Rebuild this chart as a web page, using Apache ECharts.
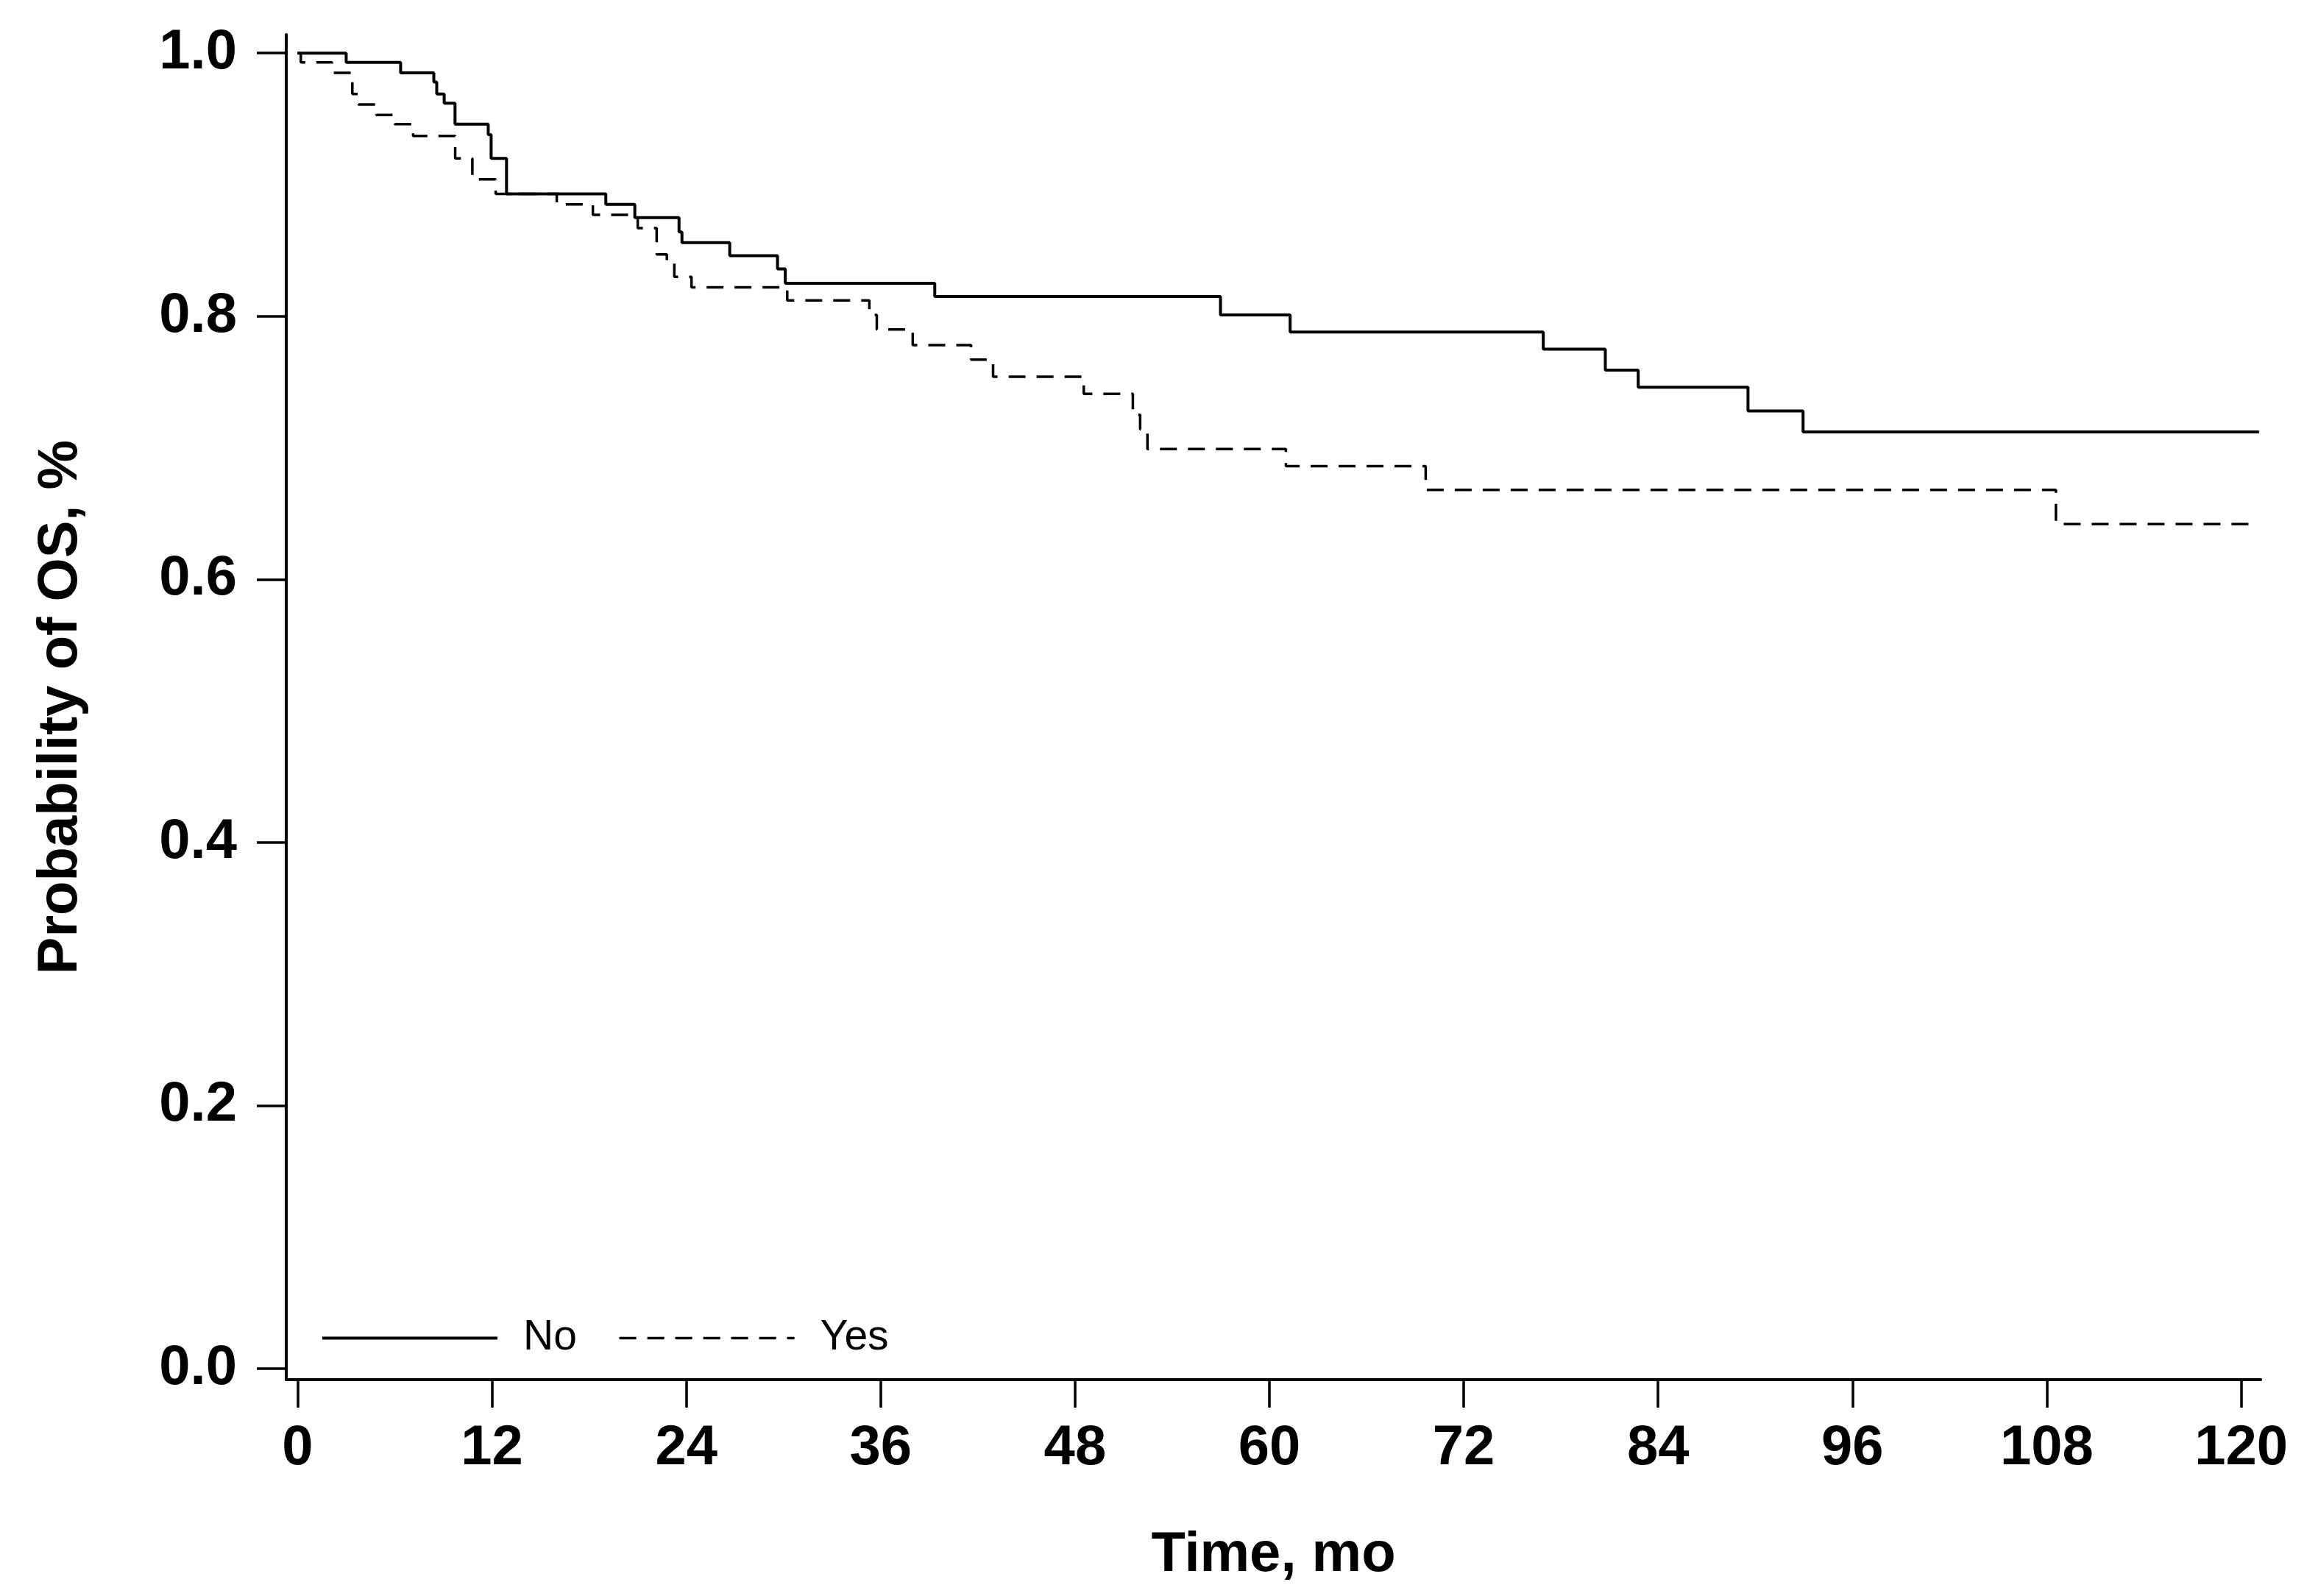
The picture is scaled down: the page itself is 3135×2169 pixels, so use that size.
<!DOCTYPE html>
<html>
<head>
<meta charset="utf-8">
<script src="https://cdn.jsdelivr.net/npm/echarts@6/dist/echarts.min.js"></script>
<style>
  html, body { margin: 0; padding: 0; background: #ffffff; }
  #chart { width: 3135px; height: 2169px; }
</style>
</head>
<body>
<div id="chart"></div>
<script>
// Kaplan-Meier steps (time in months, survival probability)
const noTimes = [0, 3.0, 6.36, 8.41, 8.59, 9.05, 9.72, 11.77, 11.95, 12.9, 19.03, 20.82, 23.55, 23.73, 26.68, 29.63, 30.11, 39.34, 56.98, 61.28, 76.91, 80.74, 82.77, 89.55, 92.95, 121.1];
const noSurv  = [1.0, 0.993, 0.985, 0.978, 0.969, 0.962, 0.946, 0.938, 0.920, 0.893, 0.885, 0.875, 0.864, 0.856, 0.846, 0.836, 0.825, 0.815, 0.801, 0.788, 0.775, 0.759, 0.746, 0.728, 0.712, 0.712];

const yesTimes = [0, 0.2, 2.12, 3.38, 3.75, 4.86, 6.0, 7.13, 9.73, 10.79, 12.23, 16.0, 18.23, 21.0, 22.17, 22.8, 23.26, 24.32, 30.23, 35.3, 35.76, 37.98, 41.58, 42.94, 48.54, 51.57, 52.02, 52.47, 61.02, 69.65, 108.56, 121.1];
const yesSurv  = [1.0, 0.993, 0.985, 0.969, 0.961, 0.953, 0.946, 0.937, 0.920, 0.904, 0.893, 0.885, 0.877, 0.867, 0.847, 0.840, 0.830, 0.822, 0.812, 0.801, 0.790, 0.778, 0.767, 0.754, 0.741, 0.725, 0.714, 0.699, 0.686, 0.668, 0.642, 0.642];

const seriesNames = ['No', 'Yes'];
const xTicks = [0, 12, 24, 36, 48, 60, 72, 84, 96, 108, 120];
const yTicks = [0, 0.2, 0.4, 0.6, 0.8, 1.0];
const xTitle = 'Time, mo';
const yTitle = 'Probability of OS, %';

function pairs(t, s) { return t.map((v, i) => [v, s[i]]); }

const chart = echarts.init(document.getElementById('chart'), null, { renderer: 'canvas' });
const FONT = 'Liberation Sans, Arial, Helvetica, sans-serif';

chart.setOption({
  animation: false,
  backgroundColor: '#ffffff',
  grid: { left: 389, right: 63, top: 47, bottom: 294, containLabel: false },
  legend: {
    left: 436,
    top: 1790,
    padding: 0,
    icon: 'inherit',
    itemWidth: 238,
    itemHeight: 20,
    itemGap: 56,
    data: seriesNames,
    itemStyle: { color: 'transparent', borderColor: 'transparent', borderWidth: 0, opacity: 0 },
    lineStyle: { width: 'inherit' },
    textStyle: { fontFamily: FONT, fontSize: 57, color: '#000', padding: [0, 0, 0, 30] }
  },
  xAxis: {
    type: 'value',
    min: -0.7,
    max: 121.2,
    name: xTitle,
    nameLocation: 'middle',
    nameGap: 201,
    nameTextStyle: { fontFamily: FONT, fontSize: 76, fontWeight: 'bold', color: '#000' },
    splitLine: { show: false },
    axisLine: { show: true, onZero: false, lineStyle: { color: '#000', width: 4 } },
    axisTick: { show: true, customValues: xTicks, length: 38, lineStyle: { color: '#000', width: 3.5 } },
    axisLabel: {
      customValues: xTicks,
      margin: 56,
      fontFamily: FONT, fontSize: 76, fontWeight: 'bold', color: '#000'
    }
  },
  yAxis: {
    type: 'value',
    min: -0.0084,
    max: 1.0141,
    name: yTitle,
    nameLocation: 'middle',
    nameGap: 268,
    nameTextStyle: { fontFamily: FONT, fontSize: 76, fontWeight: 'bold', color: '#000' },
    splitLine: { show: false },
    axisLine: { show: true, onZero: false, lineStyle: { color: '#000', width: 4 } },
    axisTick: { show: true, customValues: yTicks, length: 40, lineStyle: { color: '#000', width: 3.5 } },
    axisLabel: {
      customValues: yTicks,
      margin: 67,
      formatter: v => v.toFixed(1),
      fontFamily: FONT, fontSize: 76, fontWeight: 'bold', color: '#000'
    }
  },
  series: [
    {
      name: seriesNames[0],
      type: 'line',
      step: 'end',
      symbol: 'none',
      data: pairs(noTimes, noSurv),
      lineStyle: { color: '#000', width: 4, type: 'solid' },
      itemStyle: { color: '#000' }
    },
    {
      name: seriesNames[1],
      type: 'line',
      step: 'end',
      symbol: 'none',
      data: pairs(yesTimes, yesSurv),
      lineStyle: { color: '#000', width: 3.5, type: [23, 15] },
      itemStyle: { color: '#000' }
    }
  ]
});
</script>
</body>
</html>
